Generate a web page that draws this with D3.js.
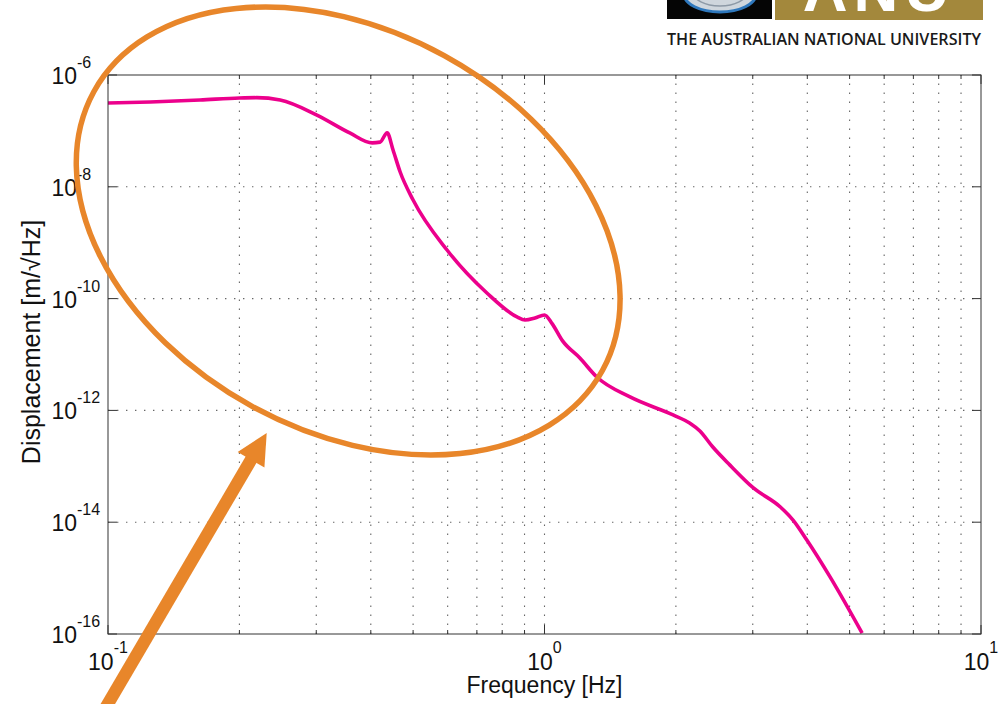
<!DOCTYPE html>
<html>
<head>
<meta charset="utf-8">
<script src="https://cdn.jsdelivr.net/npm/d3@7"></script>
<style>
  html, body { margin: 0; padding: 0; background: #fff; }
  svg { display: block; font-family: "Liberation Sans", Arial, Helvetica, sans-serif; }
</style>
</head>
<body>
<svg id="chart"></svg>
<script>
// displacement spectrum
const freq = [0.1, 0.125, 0.1625, 0.2, 0.219, 0.248, 0.301, 0.358, 0.403, 0.420, 0.436, 0.450,
  0.467, 0.5, 0.598, 0.738, 0.865, 0.902, 0.951, 1.0, 1.04, 1.10, 1.205, 1.318, 1.57, 1.97,
  2.15, 2.27, 2.43, 2.66, 3.01, 3.47, 3.71, 3.99, 4.51, 5.34];
const disp = [3.16e-7, 3.29e-7, 3.57e-7, 3.88e-7, 3.93e-7, 3.57e-7, 1.92e-7, 9.2e-8, 6.1e-8, 6.3e-8, 9.2e-8, 4.5e-8,
  1.84e-8, 5.8e-9, 7.4e-10, 1.26e-10, 4.7e-11, 4.14e-11, 4.5e-11, 5.1e-11, 3.6e-11, 1.75e-11, 8.65e-12, 3.95e-12, 1.74e-12, 8.3e-13,
  5.96e-13, 4.28e-13, 2.21e-13, 1.05e-13, 4.1e-14, 1.87e-14, 1.09e-14, 4.8e-15, 1.05e-15, 1.04e-16];

const xTicks = [0.1, 1, 10];
const xTickExp = ["-1", "0", "1"];
const yTicks = [1e-16, 1e-14, 1e-12, 1e-10, 1e-8, 1e-6];
const yTickExp = ["-16", "-14", "-12", "-10", "-8", "-6"];
const xTitle = "Frequency [Hz]";
const yTitle = "Displacement [m/\u221AHz]";
const logoLine = "THE AUSTRALIAN NATIONAL UNIVERSITY";

// annotation anchors, in data units (frequency, displacement)
const ringCentre = [0.355, 1.62e-9];
const arrowTail = [0.0936, 2.35e-18];
const arrowTip = [0.231, 3.94e-13];

const W = 998, H = 704;
const MARGIN = { top: 75, right: 17, bottom: 70, left: 108 };
const PINK = "#ec008c", ORANGE = "#e8862a";

const svg = d3.select("#chart").attr("width", W).attr("height", H)
  .attr("viewBox", `0 0 ${W} ${H}`);

const x = d3.scaleLog().domain([0.1, 10]).range([MARGIN.left, W - MARGIN.right]);
const y = d3.scaleLog().domain([1e-16, 1e-6]).range([H - MARGIN.bottom, MARGIN.top]);
const [x0, x1] = x.range();
const [y0, y1] = y.range(); // y0 bottom, y1 top

svg.append("defs").append("clipPath").attr("id", "plot-clip")
  .append("rect").attr("x", x0).attr("y", y1).attr("width", x1 - x0).attr("height", y0 - y1);

// grid (dotted, matlab style)
const minorX = [];
[0.1, 1].forEach(dec => { for (let k = 2; k <= 9; k++) minorX.push(dec * k); });
minorX.push(1);
const gridG = svg.append("g").attr("stroke", "#666").attr("stroke-width", 1.1)
  .attr("stroke-dasharray", "1.4 7.6");
gridG.selectAll("line.vx").data(minorX).join("line")
  .attr("x1", d => x(d)).attr("x2", d => x(d)).attr("y1", y0).attr("y2", y1);
gridG.selectAll("line.hy").data(yTicks.slice(1, -1)).join("line")
  .attr("x1", x0).attr("x2", x1).attr("y1", d => y(d)).attr("y2", d => y(d));

// curve
const pts = freq.map((f, i) => [f, disp[i]]);
svg.append("path")
  .datum(pts)
  .attr("clip-path", "url(#plot-clip)")
  .attr("fill", "none").attr("stroke", PINK).attr("stroke-width", 3.6)
  .attr("stroke-linejoin", "round")
  .attr("d", d3.line().x(d => x(d[0])).y(d => y(d[1])).curve(d3.curveMonotoneX));

// axes box + inward ticks
const axG = svg.append("g").attr("stroke", "#333").attr("stroke-width", 1).attr("fill", "none");
axG.append("rect").attr("x", x0).attr("y", y1).attr("width", x1 - x0).attr("height", y0 - y1);
const tickX = xTicks.map(v => ({ v, len: 9 })).concat(minorX.filter(v => v !== 1).map(v => ({ v, len: 4 })));
axG.selectAll("line.tb").data(tickX).join("line")
  .attr("x1", d => x(d.v)).attr("x2", d => x(d.v)).attr("y1", y0).attr("y2", d => y0 - d.len);
axG.selectAll("line.tt").data(tickX).join("line")
  .attr("x1", d => x(d.v)).attr("x2", d => x(d.v)).attr("y1", y1).attr("y2", d => y1 + d.len);
axG.selectAll("line.tl").data(yTicks).join("line")
  .attr("x1", x0).attr("x2", x0 + 9).attr("y1", d => y(d)).attr("y2", d => y(d));
axG.selectAll("line.tr").data(yTicks).join("line")
  .attr("x1", x1).attr("x2", x1 - 9).attr("y1", d => y(d)).attr("y2", d => y(d));

// tick labels
const xl = svg.append("g").attr("fill", "#111");
xTicks.forEach((v, i) => {
  const t = xl.append("text").attr("x", x(v)).attr("y", y0 + 36).attr("text-anchor", "middle");
  t.append("tspan").attr("font-size", 23).text("10");
  t.append("tspan").attr("font-size", 16).attr("dy", -17).text(xTickExp[i]);
});
yTicks.forEach((v, i) => {
  xl.append("text").attr("x", 77).attr("y", y(v) + 9).attr("text-anchor", "end")
    .attr("font-size", 23).text("10");
  xl.append("text").attr("x", 77).attr("y", y(v) - 7).attr("text-anchor", "start")
    .attr("font-size", 16).text(yTickExp[i]);
});

// axis titles
svg.append("text").attr("x", (x0 + x1) / 2).attr("y", 693).attr("text-anchor", "middle")
  .attr("font-size", 23).attr("fill", "#111").text(xTitle);
svg.append("text").attr("transform", `translate(40,342) rotate(-90)`)
  .attr("text-anchor", "middle").attr("font-size", 25).attr("fill", "#111").text(yTitle);

// orange annotation: ring + arrow
svg.append("ellipse")
  .attr("transform", `translate(${x(ringCentre[0])},${y(ringCentre[1])}) rotate(28.7)`)
  .attr("rx", 290).attr("ry", 200)
  .attr("fill", "none").attr("stroke", ORANGE).attr("stroke-width", 5.5);

const tail = [x(arrowTail[0]), y(arrowTail[1])];
const tip = [x(arrowTip[0]), y(arrowTip[1])];
const dx = tip[0] - tail[0], dy = tip[1] - tail[1];
const len = Math.hypot(dx, dy);
const ux = dx / len, uy = dy / len, px = -uy, py = ux;
const headLen = 31, headW = 15.5;
const base = [tip[0] - ux * headLen, tip[1] - uy * headLen];
svg.append("line")
  .attr("x1", tail[0]).attr("y1", tail[1])
  .attr("x2", base[0] + ux * 2).attr("y2", base[1] + uy * 2)
  .attr("stroke", ORANGE).attr("stroke-width", 12.5);
svg.append("path")
  .attr("d", `M${tip[0]},${tip[1]} L${base[0] + px * headW},${base[1] + py * headW} L${base[0] - px * headW},${base[1] - py * headW} Z`)
  .attr("fill", ORANGE);

// ANU logo strip (cut off at top of page)
const logo = svg.append("g");
logo.append("rect").attr("x", 667).attr("y", 0).attr("width", 105).attr("height", 19).attr("fill", "#050505");
logo.append("ellipse").attr("cx", 720).attr("cy", -6).attr("rx", 36).attr("ry", 18)
  .attr("fill", "#cfd6dd").attr("stroke", "#2f78bd").attr("stroke-width", 3);
logo.append("ellipse").attr("cx", 720).attr("cy", -8).attr("rx", 27).attr("ry", 14)
  .attr("fill", "none").attr("stroke", "#8d99a6").attr("stroke-width", 1.5);
logo.append("rect").attr("x", 775).attr("y", 0).attr("width", 208).attr("height", 20).attr("fill", "#a3883c");
logo.append("text").attr("x", 879).attr("y", 11).attr("text-anchor", "middle")
  .attr("font-size", 62).attr("font-weight", "bold").attr("fill", "#fff")
  .attr("letter-spacing", 6).text("ANU");
logo.append("text").attr("x", 667).attr("y", 45)
  .attr("font-family", "'Open Sans', 'DejaVu Sans', sans-serif")
  .attr("font-size", 17).attr("font-weight", 600).attr("fill", "#1a1a1a")
  .attr("textLength", 314).attr("lengthAdjust", "spacingAndGlyphs").text(logoLine);
</script>
</body>
</html>
